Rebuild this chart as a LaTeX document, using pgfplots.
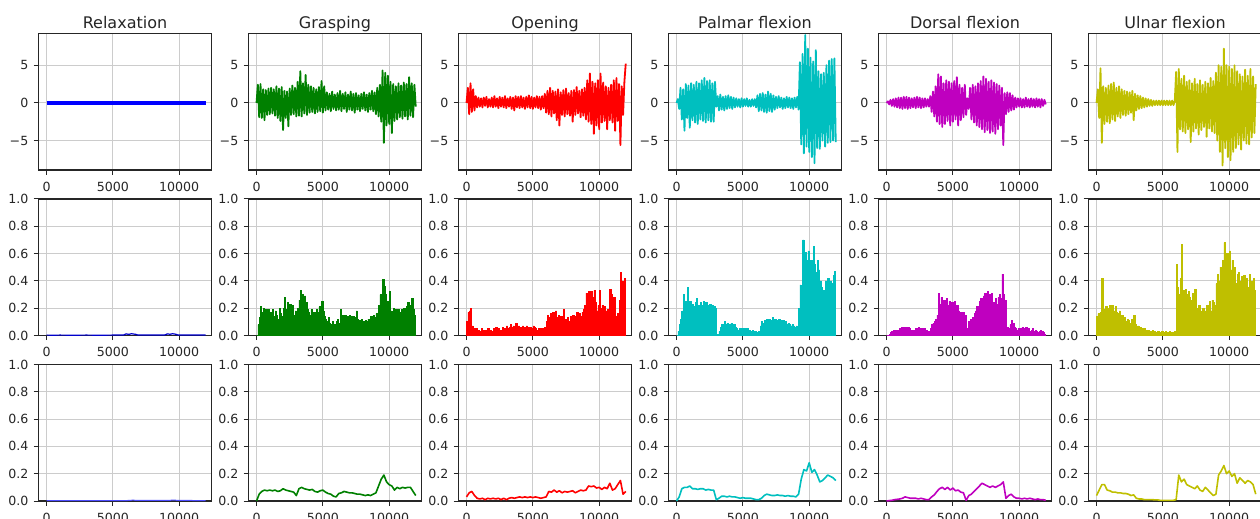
\documentclass[border=0pt]{standalone}
\usepackage{fontspec}
\setmainfont{DejaVu Sans}
\usepackage{pgfplots}
\usepackage{pgfplotstable}
\pgfplotsset{compat=1.18}
\definecolor{mb}{rgb}{0,0,1}
\definecolor{mg}{rgb}{0,0.5,0}
\definecolor{mr}{rgb}{1,0,0}
\definecolor{mc}{rgb}{0,0.75,0.75}
\definecolor{mm}{rgb}{0.75,0,0.75}
\definecolor{my}{rgb}{0.75,0.75,0}
\newcommand\tks{\fontsize{6.3}{7}\selectfont}
\newcommand\ttl{\fontsize{8}{9.5}\selectfont}

% ---------- row 1: raw signals (step 100) ----------
\pgfplotstableread[row sep=\\, header=false]{0\\
2.4\\-1.9\\2.5\\-2.0\\1.8\\-2.3\\1.7\\-1.6\\1.9\\-1.5\\
2.0\\-1.4\\1.8\\-1.7\\2.2\\-2.0\\1.9\\-2.4\\2.1\\-3.6\\
1.6\\-2.0\\1.5\\-3.1\\1.9\\-1.6\\2.3\\-1.5\\2.0\\-1.8\\
2.8\\-1.7\\4.2\\-1.8\\2.6\\-1.4\\3.7\\-1.6\\2.4\\-1.3\\
2.2\\-1.2\\2.0\\-1.4\\1.8\\-1.2\\2.1\\-1.1\\2.9\\-1.3\\
2.2\\-1.0\\1.4\\-0.9\\1.2\\-1.1\\1.5\\-0.8\\1.1\\-1.0\\
1.3\\-0.9\\1.6\\-1.1\\1.2\\-0.8\\1.4\\-1.2\\1.1\\-0.9\\
1.5\\-1.0\\1.2\\-1.3\\1.3\\-0.9\\1.0\\-1.1\\1.2\\-0.8\\
1.4\\-1.0\\1.1\\-1.2\\1.3\\-0.9\\1.6\\-1.1\\1.4\\-1.5\\
2.0\\-1.8\\2.4\\-2.5\\4.3\\-5.3\\4.0\\-3.0\\3.6\\-2.8\\
2.8\\-4.0\\2.5\\-2.4\\2.2\\-2.2\\2.6\\-1.9\\2.3\\-2.1\\
2.7\\-1.8\\2.5\\-2.2\\3.4\\-1.7\\2.6\\-1.9\\2.4\\-0.5\\
}\gA
\pgfplotstableread[row sep=\\, header=false]{0\\
2.0\\-1.5\\2.6\\-1.2\\1.8\\-1.0\\0.9\\-0.6\\0.7\\-0.5\\
0.6\\-0.6\\0.7\\-0.4\\0.8\\-0.6\\0.5\\-0.5\\0.7\\-0.6\\
0.9\\-0.5\\0.6\\-0.7\\0.8\\-0.5\\0.7\\-0.6\\0.9\\-0.7\\
0.6\\-0.5\\0.8\\-0.8\\0.7\\-1.0\\0.9\\-0.6\\0.8\\-0.7\\
0.9\\-0.6\\0.7\\-0.8\\0.8\\-0.6\\1.0\\-0.7\\0.8\\-0.8\\
0.7\\-0.6\\0.9\\-0.7\\0.8\\-0.9\\0.9\\-0.7\\1.2\\-1.3\\
1.6\\-1.5\\2.0\\-1.8\\1.6\\-1.4\\1.5\\-2.3\\1.8\\-3.0\\
1.4\\-1.6\\1.7\\-1.8\\1.9\\-1.5\\1.3\\-1.7\\1.6\\-2.5\\
1.7\\-1.6\\2.1\\-1.4\\1.6\\-1.9\\1.8\\-1.7\\2.0\\-2.2\\
3.0\\-2.5\\3.9\\-2.8\\2.8\\-4.1\\2.6\\-3.0\\3.0\\-3.5\\
3.9\\-2.6\\2.7\\-2.4\\2.2\\-3.5\\2.0\\-2.3\\2.4\\-2.6\\
3.0\\-3.7\\3.3\\-2.4\\2.5\\-5.6\\2.2\\-1.6\\2.8\\5.2\\
}\oA
\pgfplotstableread[row sep=\\, header=false]{0\\
0.5\\-0.8\\2.0\\-2.2\\1.8\\-3.7\\2.5\\-2.0\\2.3\\-3.3\\
2.6\\-2.3\\2.4\\-2.6\\2.8\\-2.8\\2.6\\-2.2\\3.0\\-2.4\\
3.3\\-2.6\\2.9\\-2.3\\3.0\\-2.5\\2.6\\-2.5\\2.8\\-0.5\\
0.9\\-1.0\\1.1\\-0.9\\0.8\\-1.0\\0.9\\-0.8\\1.0\\-0.7\\
0.8\\-0.8\\0.7\\-0.6\\0.6\\-0.5\\0.5\\-0.6\\0.6\\-0.5\\
0.5\\-0.4\\0.6\\-0.5\\0.4\\-0.5\\0.5\\-0.4\\0.5\\-0.6\\
1.0\\-1.1\\1.2\\-1.0\\1.3\\-1.2\\1.1\\-1.3\\1.5\\-1.1\\
1.2\\-1.2\\1.0\\-0.9\\0.8\\-0.7\\0.9\\-0.6\\0.7\\-0.8\\
0.6\\-0.7\\0.8\\-0.6\\0.7\\-0.7\\0.6\\-0.8\\0.7\\-0.6\\
0.8\\-0.9\\5.4\\-5.5\\6.5\\-6.7\\9.0\\-5.8\\7.2\\-6.5\\
6.0\\-7.2\\5.5\\-8.0\\7.0\\-6.0\\4.2\\-6.1\\3.8\\-5.0\\
4.0\\-5.8\\5.0\\-5.3\\5.6\\-5.2\\5.8\\-5.0\\5.9\\-5.2\\
}\pA
\pgfplotstableread[row sep=\\, header=false]{0\\
0.2\\-0.2\\0.4\\-0.4\\0.5\\-0.5\\0.6\\-0.6\\0.7\\-0.7\\
0.7\\-0.8\\0.8\\-0.7\\0.8\\-0.8\\0.7\\-0.7\\0.6\\-0.6\\
0.7\\-0.7\\0.8\\-0.6\\0.7\\-0.7\\0.6\\-0.6\\0.6\\-0.5\\
0.5\\-0.5\\0.9\\-1.2\\1.5\\-1.8\\2.2\\-2.5\\3.8\\-2.8\\
3.5\\-3.2\\2.6\\-2.8\\3.0\\-2.4\\2.8\\-3.0\\2.6\\-2.5\\
2.9\\-2.2\\3.4\\-3.0\\2.4\\-2.3\\2.0\\-1.9\\2.4\\-1.6\\
0.6\\-0.8\\2.0\\-2.2\\2.4\\-2.6\\2.2\\-3.0\\2.6\\-3.2\\
2.9\\-3.5\\3.5\\-3.9\\3.2\\-3.6\\2.8\\-4.0\\3.0\\-3.8\\
2.7\\-4.1\\2.5\\-3.5\\2.3\\-3.0\\2.0\\-5.6\\1.3\\-1.5\\
1.4\\-1.2\\1.3\\-1.0\\1.0\\-0.9\\0.7\\-0.6\\0.6\\-0.5\\
0.6\\-0.6\\0.5\\-0.6\\0.7\\-0.5\\0.5\\-0.6\\0.6\\-0.5\\
0.5\\-0.6\\0.6\\-0.5\\0.5\\-0.6\\0.5\\-0.4\\0.4\\-0.2\\
}\dA
\pgfplotstableread[row sep=\\, header=false]{0\\
1.8\\-2.0\\4.6\\-5.3\\2.2\\-2.8\\2.0\\-2.5\\2.3\\-2.7\\
2.5\\-2.2\\2.7\\-2.4\\2.0\\-1.8\\2.2\\-2.0\\1.8\\-1.6\\
1.6\\-1.7\\1.5\\-1.5\\1.4\\-1.3\\1.6\\-2.3\\1.2\\-1.0\\
1.0\\-0.8\\0.9\\-0.7\\0.7\\-0.6\\0.6\\-0.5\\0.5\\-0.4\\
0.4\\-0.4\\0.3\\-0.3\\0.3\\-0.3\\0.3\\-0.3\\0.3\\-0.3\\
0.3\\-0.3\\0.3\\-0.3\\0.3\\-0.3\\0.3\\-0.3\\0.3\\4.1\\
-6.5\\4.5\\-3.5\\3.2\\-3.8\\3.6\\-4.0\\2.8\\-3.5\\3.0\\
-5.2\\2.6\\-3.8\\3.2\\-3.4\\2.5\\-4.2\\3.0\\-3.6\\2.4\\
-3.2\\2.8\\-4.5\\2.6\\-3.4\\3.3\\-3.8\\2.9\\-4.0\\4.0\\
-5.0\\5.0\\-6.5\\4.8\\-8.3\\7.2\\-6.0\\5.0\\-7.2\\4.8\\
-7.6\\4.5\\-6.5\\5.0\\-6.0\\4.2\\-5.5\\3.8\\-6.2\\3.5\\
-5.0\\4.4\\-5.4\\3.6\\-5.5\\4.5\\-4.6\\3.5\\-4.0\\2.5\\
}\uA

% ---------- row 2: windowed feature (step 100) ----------
\pgfplotstableread[row sep=\\, header=false]{0.00\\
0.08\\0.13\\0.21\\0.17\\0.20\\0.15\\0.19\\0.16\\0.19\\0.17\\
0.15\\0.19\\0.14\\0.18\\0.15\\0.12\\0.20\\0.16\\0.14\\0.20\\
0.28\\0.19\\0.24\\0.18\\0.23\\0.16\\0.22\\0.15\\0.18\\0.13\\
0.20\\0.26\\0.33\\0.30\\0.22\\0.29\\0.24\\0.19\\0.17\\0.15\\
0.19\\0.14\\0.17\\0.16\\0.19\\0.17\\0.21\\0.19\\0.25\\0.18\\
0.14\\0.12\\0.10\\0.13\\0.09\\0.08\\0.10\\0.05\\0.08\\0.10\\
0.12\\0.09\\0.19\\0.14\\0.15\\0.13\\0.15\\0.14\\0.13\\0.15\\
0.14\\0.12\\0.14\\0.13\\0.18\\0.12\\0.11\\0.10\\0.12\\0.10\\
0.09\\0.11\\0.10\\0.12\\0.11\\0.14\\0.12\\0.15\\0.13\\0.16\\
0.14\\0.22\\0.30\\0.26\\0.41\\0.36\\0.30\\0.25\\0.20\\0.32\\
0.18\\0.15\\0.20\\0.16\\0.19\\0.18\\0.19\\0.17\\0.19\\0.18\\
0.20\\0.17\\0.21\\0.24\\0.19\\0.22\\0.27\\0.19\\0.15\\0.15\\
}\gB
\pgfplotstableread[row sep=\\, header=false]{0.10\\
0.17\\0.18\\0.20\\0.07\\0.05\\0.04\\0.05\\0.03\\0.04\\0.03\\
0.05\\0.03\\0.04\\0.02\\0.04\\0.05\\0.03\\0.04\\0.03\\0.05\\
0.04\\0.06\\0.03\\0.05\\0.04\\0.03\\0.06\\0.05\\0.04\\0.07\\
0.05\\0.06\\0.08\\0.06\\0.07\\0.05\\0.09\\0.06\\0.07\\0.06\\
0.05\\0.07\\0.06\\0.05\\0.07\\0.06\\0.05\\0.06\\0.05\\0.07\\
0.06\\0.05\\0.04\\0.05\\0.04\\0.05\\0.04\\0.05\\0.06\\0.10\\
0.15\\0.13\\0.16\\0.12\\0.17\\0.14\\0.18\\0.13\\0.15\\0.12\\
0.14\\0.11\\0.19\\0.12\\0.11\\0.13\\0.10\\0.14\\0.12\\0.15\\
0.13\\0.14\\0.17\\0.15\\0.16\\0.14\\0.17\\0.19\\0.22\\0.31\\
0.25\\0.32\\0.26\\0.32\\0.28\\0.33\\0.24\\0.18\\0.22\\0.33\\
0.20\\0.22\\0.19\\0.21\\0.18\\0.19\\0.17\\0.34\\0.30\\0.26\\
0.28\\0.14\\0.10\\0.16\\0.26\\0.46\\0.40\\0.05\\0.42\\0.40\\
}\oB
\pgfplotstableread[row sep=\\, header=false]{0.00\\
0.03\\0.08\\0.12\\0.18\\0.30\\0.20\\0.25\\0.35\\0.22\\0.25\\
0.20\\0.23\\0.21\\0.24\\0.27\\0.22\\0.20\\0.24\\0.22\\0.25\\
0.23\\0.24\\0.22\\0.21\\0.23\\0.20\\0.22\\0.21\\0.20\\0.00\\
0.01\\0.03\\0.06\\0.08\\0.07\\0.10\\0.08\\0.09\\0.07\\0.08\\
0.09\\0.07\\0.08\\0.06\\0.05\\0.04\\0.05\\0.04\\0.05\\0.04\\
0.05\\0.04\\0.05\\0.04\\0.04\\0.03\\0.04\\0.03\\0.03\\0.02\\
0.01\\0.03\\0.07\\0.10\\0.09\\0.11\\0.10\\0.12\\0.10\\0.12\\
0.11\\0.13\\0.10\\0.12\\0.11\\0.10\\0.12\\0.11\\0.10\\0.11\\
0.09\\0.10\\0.08\\0.09\\0.08\\0.07\\0.08\\0.07\\0.06\\0.07\\
0.06\\0.20\\0.37\\0.33\\0.70\\0.58\\0.61\\0.55\\0.62\\0.48\\
0.55\\0.50\\0.65\\0.52\\0.46\\0.55\\0.48\\0.40\\0.35\\0.25\\
0.33\\0.40\\0.38\\0.42\\0.36\\0.40\\0.38\\0.44\\0.47\\0.46\\
}\pB
\pgfplotstableread[row sep=\\, header=false]{0.00\\
0.00\\0.01\\0.02\\0.03\\0.04\\0.03\\0.04\\0.04\\0.03\\0.05\\
0.06\\0.05\\0.06\\0.05\\0.06\\0.06\\0.05\\0.04\\0.04\\0.03\\
0.04\\0.05\\0.05\\0.06\\0.05\\0.05\\0.04\\0.05\\0.04\\0.04\\
0.03\\0.02\\0.05\\0.08\\0.09\\0.10\\0.12\\0.15\\0.31\\0.23\\
0.28\\0.20\\0.26\\0.24\\0.27\\0.22\\0.25\\0.21\\0.24\\0.20\\
0.25\\0.19\\0.22\\0.18\\0.17\\0.17\\0.16\\0.17\\0.15\\0.05\\
0.00\\0.10\\0.12\\0.11\\0.13\\0.16\\0.18\\0.21\\0.20\\0.25\\
0.27\\0.26\\0.29\\0.31\\0.28\\0.32\\0.30\\0.26\\0.31\\0.24\\
0.22\\0.27\\0.23\\0.28\\0.30\\0.27\\0.45\\0.30\\0.26\\0.04\\
0.06\\0.05\\0.08\\0.11\\0.09\\0.06\\0.05\\0.04\\0.05\\0.04\\
0.05\\0.06\\0.04\\0.05\\0.06\\0.04\\0.05\\0.03\\0.04\\0.05\\
0.03\\0.04\\0.03\\0.02\\0.03\\0.04\\0.03\\0.02\\0.01\\0.01\\
}\dB
\pgfplotstableread[row sep=\\, header=false]{0.14\\
0.16\\0.15\\0.17\\0.42\\0.19\\0.17\\0.21\\0.18\\0.20\\0.22\\
0.19\\0.22\\0.18\\0.21\\0.17\\0.16\\0.18\\0.14\\0.15\\0.12\\
0.13\\0.10\\0.12\\0.11\\0.09\\0.12\\0.10\\0.15\\0.08\\0.06\\
0.07\\0.05\\0.06\\0.05\\0.04\\0.05\\0.04\\0.03\\0.04\\0.03\\
0.03\\0.04\\0.03\\0.02\\0.02\\0.03\\0.02\\0.02\\0.03\\0.02\\
0.02\\0.03\\0.02\\0.02\\0.03\\0.02\\0.02\\0.02\\0.03\\0.52\\
0.35\\0.30\\0.42\\0.67\\0.33\\0.31\\0.34\\0.30\\0.32\\0.28\\
0.26\\0.31\\0.25\\0.34\\0.20\\0.17\\0.22\\0.18\\0.15\\0.20\\
0.14\\0.18\\0.22\\0.15\\0.25\\0.18\\0.26\\0.24\\0.22\\0.38\\
0.45\\0.40\\0.50\\0.48\\0.55\\0.68\\0.58\\0.60\\0.55\\0.62\\
0.48\\0.55\\0.42\\0.50\\0.38\\0.45\\0.46\\0.40\\0.43\\0.38\\
0.44\\0.36\\0.42\\0.35\\0.45\\0.30\\0.40\\0.42\\0.33\\0.25\\
}\uB

% ---------- row 3: smoothed feature (step 200) ----------
\pgfplotstableread[row sep=\\, header=false]{
0.00\\0.05\\0.07\\0.08\\0.075\\0.08\\0.075\\0.08\\0.07\\0.075\\
0.09\\0.08\\0.075\\0.07\\0.065\\0.04\\0.09\\0.10\\0.09\\0.085\\
0.08\\0.085\\0.07\\0.065\\0.075\\0.08\\0.065\\0.055\\0.05\\0.035\\
0.03\\0.055\\0.06\\0.07\\0.065\\0.06\\0.06\\0.055\\0.05\\0.05\\
0.045\\0.04\\0.045\\0.04\\0.05\\0.06\\0.11\\0.16\\0.19\\0.14\\
0.12\\0.11\\0.08\\0.10\\0.09\\0.10\\0.095\\0.10\\0.10\\0.07\\
0.04\\
}\gC
\pgfplotstableread[row sep=\\, header=false]{
0.03\\0.06\\0.07\\0.04\\0.02\\0.015\\0.02\\0.01\\0.02\\0.015\\
0.02\\0.015\\0.02\\0.01\\0.02\\0.01\\0.02\\0.025\\0.02\\0.025\\
0.03\\0.025\\0.03\\0.025\\0.03\\0.025\\0.03\\0.025\\0.02\\0.025\\
0.03\\0.07\\0.065\\0.08\\0.065\\0.075\\0.06\\0.07\\0.065\\0.07\\
0.075\\0.06\\0.07\\0.08\\0.075\\0.08\\0.11\\0.105\\0.11\\0.095\\
0.10\\0.085\\0.10\\0.09\\0.13\\0.08\\0.09\\0.12\\0.15\\0.05\\
0.07\\
}\oC
\pgfplotstableread[row sep=\\, header=false]{
0.00\\0.03\\0.09\\0.10\\0.10\\0.11\\0.09\\0.09\\0.085\\0.09\\
0.09\\0.08\\0.085\\0.08\\0.08\\0.01\\0.02\\0.035\\0.035\\0.03\\
0.035\\0.03\\0.03\\0.025\\0.02\\0.025\\0.02\\0.02\\0.02\\0.015\\
0.01\\0.01\\0.02\\0.04\\0.05\\0.045\\0.04\\0.04\\0.045\\0.04\\
0.04\\0.035\\0.04\\0.035\\0.035\\0.03\\0.05\\0.16\\0.23\\0.22\\
0.28\\0.21\\0.23\\0.19\\0.14\\0.15\\0.17\\0.19\\0.18\\0.17\\
0.15\\
}\pC
\pgfplotstableread[row sep=\\, header=false]{
0.00\\0.003\\0.005\\0.01\\0.012\\0.015\\0.02\\0.03\\0.025\\0.02\\
0.02\\0.02\\0.015\\0.02\\0.015\\0.01\\0.01\\0.03\\0.045\\0.07\\
0.09\\0.10\\0.085\\0.10\\0.08\\0.095\\0.075\\0.08\\0.065\\0.06\\
0.005\\0.04\\0.05\\0.07\\0.09\\0.11\\0.13\\0.12\\0.11\\0.10\\
0.11\\0.10\\0.11\\0.12\\0.14\\0.02\\0.04\\0.05\\0.03\\0.02\\
0.02\\0.015\\0.02\\0.015\\0.02\\0.015\\0.01\\0.015\\0.01\\0.01\\
0.005\\
}\dC
\pgfplotstableread[row sep=\\, header=false]{
0.04\\0.08\\0.12\\0.12\\0.08\\0.075\\0.065\\0.065\\0.06\\0.06\\
0.055\\0.055\\0.05\\0.04\\0.045\\0.02\\0.015\\0.015\\0.01\\0.01\\
0.01\\0.01\\0.008\\0.008\\0.005\\0.005\\0.005\\0.005\\0.005\\0.005\\
0.01\\0.19\\0.14\\0.16\\0.12\\0.11\\0.10\\0.09\\0.11\\0.08\\
0.07\\0.10\\0.08\\0.06\\0.04\\0.05\\0.19\\0.22\\0.26\\0.20\\
0.22\\0.18\\0.20\\0.13\\0.17\\0.15\\0.13\\0.15\\0.14\\0.12\\
0.05\\
}\uC

\pgfplotsset{
  base/.style={scale only axis, width=86.7pt, height=68.25pt, anchor=north west,
    xmin=-620, xmax=12450, xtick={0,5000,10000}, xticklabels={0,5000,10000},
    scaled x ticks=false, scaled y ticks=false,
    tick align=outside, tick pos=left, major tick length=2.3pt,
    grid=major, major grid style={black!20, line width=0.5pt},
    axis line style={black!85, line width=0.6pt},
    every tick/.append style={black!85, line width=0.5pt},
    tick label style={font=\tks, inner sep=0pt, text=black!85},
    xticklabel style={yshift=-3.5pt},
    yticklabel style={xshift=-2.5pt},
    every axis title/.style={at={(0.5,1)}, anchor=base, yshift=2.6pt, font=\ttl, inner sep=0pt, text=black!85},
  },
  raw/.style={base, ymin=-8.9, ymax=9.2, ytick={-5,0,5}, yticklabels={−5,0,5}},
  feat/.style={base, ymin=0, ymax=1, ytick={0,0.2,0.4,0.6,0.8,1}, yticklabels={0.0,0.2,0.4,0.6,0.8,1.0}},
  sig/.style={line width=0.9pt, line join=round},
  area/.style={const plot, line width=0.35pt},
  fline/.style={line width=0.8pt, line join=round},
}

\begin{document}
\begin{tikzpicture}
% ---------------- row 1 ----------------
\begin{axis}[raw, at={(19.15pt,-16.75pt)}, title={Relaxation}]
\addplot[mb, line width=2pt] coordinates {(0,0) (3000,0) (6000,0) (9000,0) (12000,0)};
\end{axis}
\begin{axis}[raw, at={(124.15pt,-16.75pt)}, title={Grasping}]
\addplot[mg, sig] table[x expr=\coordindex*100, y index=0] {\gA};
\end{axis}
\begin{axis}[raw, at={(229.15pt,-16.75pt)}, title={Opening}]
\addplot[mr, sig] table[x expr=\coordindex*100, y index=0] {\oA};
\end{axis}
\begin{axis}[raw, at={(334.15pt,-16.75pt)}, title={Palmar flexion}]
\addplot[mc, sig] table[x expr=\coordindex*100, y index=0] {\pA};
\end{axis}
\begin{axis}[raw, at={(439.15pt,-16.75pt)}, title={Dorsal flexion}]
\addplot[mm, sig] table[x expr=\coordindex*100, y index=0] {\dA};
\end{axis}
\begin{axis}[raw, at={(544.15pt,-16.75pt)}, title={Ulnar flexion}]
\addplot[my, sig] table[x expr=\coordindex*100, y index=0] {\uA};
\end{axis}
% ---------------- row 2 ----------------
\begin{axis}[feat, at={(19.15pt,-99.5pt)}]
\addplot[mb!80!black, line width=0.6pt] coordinates {(0,0.003) (500,0.002) (1000,0.003) (2000,0.002) (3000,0.003) (4000,0.002) (5000,0.003) (5800,0.003) (6000,0.012) (6200,0.008) (6400,0.013) (6700,0.009) (6900,0.003) (8000,0.003) (8900,0.003) (9100,0.012) (9300,0.009) (9500,0.013) (9700,0.01) (9900,0.004) (11000,0.003) (12000,0.003)};
\end{axis}
\begin{axis}[feat, at={(124.15pt,-99.5pt)}]
\addplot[mg, fill=mg, area] table[x expr=\coordindex*100, y index=0] {\gB} \closedcycle;
\end{axis}
\begin{axis}[feat, at={(229.15pt,-99.5pt)}]
\addplot[mr, fill=mr, area] table[x expr=\coordindex*100, y index=0] {\oB} \closedcycle;
\end{axis}
\begin{axis}[feat, at={(334.15pt,-99.5pt)}]
\addplot[mc, fill=mc, area] table[x expr=\coordindex*100, y index=0] {\pB} \closedcycle;
\end{axis}
\begin{axis}[feat, at={(439.15pt,-99.5pt)}]
\addplot[mm, fill=mm, area] table[x expr=\coordindex*100, y index=0] {\dB} \closedcycle;
\end{axis}
\begin{axis}[feat, at={(544.15pt,-99.5pt)}]
\addplot[my, fill=my, area] table[x expr=\coordindex*100, y index=0] {\uB} \closedcycle;
\end{axis}
% ---------------- row 3 ----------------
\begin{axis}[feat, at={(19.15pt,-182.25pt)}]
\addplot[mb!70, line width=0.5pt] coordinates {(0,0.002) (3000,0.003) (6000,0.003) (6500,0.006) (7000,0.004) (9000,0.004) (9500,0.006) (10500,0.004) (12000,0.003)};
\end{axis}
\begin{axis}[feat, at={(124.15pt,-182.25pt)}]
\addplot[mg, fline] table[x expr=\coordindex*200, y index=0] {\gC};
\end{axis}
\begin{axis}[feat, at={(229.15pt,-182.25pt)}]
\addplot[mr, fline] table[x expr=\coordindex*200, y index=0] {\oC};
\end{axis}
\begin{axis}[feat, at={(334.15pt,-182.25pt)}]
\addplot[mc, fline] table[x expr=\coordindex*200, y index=0] {\pC};
\end{axis}
\begin{axis}[feat, at={(439.15pt,-182.25pt)}]
\addplot[mm, fline] table[x expr=\coordindex*200, y index=0] {\dC};
\end{axis}
\begin{axis}[feat, at={(544.15pt,-182.25pt)}]
\addplot[my, fline] table[x expr=\coordindex*200, y index=0] {\uC};
\end{axis}
\pgfresetboundingbox
\path[use as bounding box] (0,0) rectangle (630pt,-259.5pt);
\end{tikzpicture}
\end{document}
